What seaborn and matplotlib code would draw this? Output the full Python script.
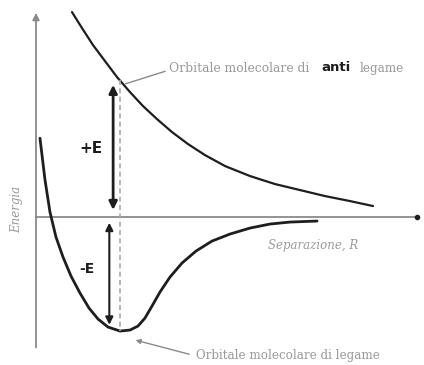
import numpy as np
import pandas as pd
import seaborn as sns
import matplotlib
matplotlib.use('Agg')
import matplotlib.pyplot as plt

# separation R and energy values
r_anti = [0.947, 1.211, 1.5, 1.816, 2.132, 2.474, 2.816, 3.184, 3.579, 4.0, 4.447, 4.974,
          5.632, 6.289, 6.947, 7.605, 8.263, 8.868]
e_anti = [5.694, 5.25, 4.778, 4.333, 3.889, 3.472, 3.083, 2.722, 2.361, 2.028, 1.722, 1.417,
          1.139, 0.917, 0.75, 0.583, 0.444, 0.306]

r_bond = [0.105, 0.237, 0.368, 0.526, 0.711, 0.921, 1.158, 1.395, 1.632, 1.895, 2.211,
          2.474, 2.684, 2.868, 3.053, 3.263, 3.526, 3.842, 4.211, 4.632, 5.105, 5.632, 6.158, 6.684, 7.395]
e_bond = [2.19, 1.033, 0.139, -0.556, -1.111, -1.639, -2.111, -2.528, -2.833, -3.056, -3.167,
          -3.139, -3.028, -2.806, -2.472, -2.083, -1.667, -1.278, -0.944, -0.667, -0.472, -0.306, -0.194, -0.139, -0.111]

r_eq = 2.21          # equilibrium separation (dashed line)
e_plus = 3.8         # antibonding level at r_eq
e_minus = -3.17      # bonding level at r_eq

anti = pd.DataFrame({'R': r_anti, 'E': e_anti})
bond = pd.DataFrame({'R': r_bond, 'E': e_bond})

sns.set_theme(style='white')
plt.rcParams['font.family'] = ['DejaVu Serif']

fig = plt.figure(figsize=(4.24, 3.65), dpi=100)
ax = fig.add_axes([0, 0, 1, 1])
ax.set_xlim(-0.947, 10.21)
ax.set_ylim(-4.11, 6.03)
ax.axis('off')

ink = '#1e1e1e'
grey = '#8a8a8a'
txt = '#9a9a9a'

# axes of the diagram
ax.annotate('', xy=(0, 5.75), xytext=(0, -3.7),
            arrowprops=dict(arrowstyle='-|>', color=grey, lw=1.3, mutation_scale=10))
ax.plot([0, 10.0], [0, 0], color=grey, lw=1.3)
ax.plot([10.03], [0], 'o', color=ink, ms=3)

# curves
sns.lineplot(data=anti, x='R', y='E', ax=ax, color=ink, lw=1.6, sort=False,
             solid_joinstyle='round', solid_capstyle='round')
sns.lineplot(data=bond, x='R', y='E', ax=ax, color=ink, lw=2.0, sort=False,
             solid_joinstyle='round', solid_capstyle='round')

# dashed equilibrium line
ax.plot([r_eq, r_eq], [e_plus, e_minus], color='#aaaaaa', lw=1.2, ls=(0, (3, 2)))

# energy arrows
ax.annotate('', xy=(r_eq - 0.18, e_plus - 0.05), xytext=(r_eq - 0.18, 0.12),
            arrowprops=dict(arrowstyle='<|-|>', color=ink, lw=2, mutation_scale=12))
ax.annotate('', xy=(r_eq - 0.28, -0.08), xytext=(r_eq - 0.28, e_minus + 0.1),
            arrowprops=dict(arrowstyle='<|-|>', color=ink, lw=1.5, mutation_scale=11))
ax.text(1.45, 1.9, '+E', fontsize=11, fontweight='bold', color=ink, ha='center', va='center',
        family=['DejaVu Sans'])
ax.text(1.35, -1.45, '-E', fontsize=10, fontweight='bold', color=ink, ha='center', va='center',
        family=['DejaVu Sans'])

# labels
ax.text(-0.5, 0.2, 'Energia', rotation=90, fontsize=8.5, style='italic', color=txt,
        ha='center', va='center')
ax.text(7.3, -0.78, 'Separazione, R', fontsize=8.5, style='italic', color=txt,
        ha='center', va='center')

ax.plot([2.35, 3.4], [3.7, 4.05], color=grey, lw=1)
ax.text(3.5, 4.12, 'Orbitale molecolare di', fontsize=8.9, color=txt, ha='left', va='center')
ax.text(7.52, 4.15, 'anti', fontsize=9.5, fontweight='bold', color=ink, ha='left', va='center',
        family=['DejaVu Sans'])
ax.text(8.52, 4.12, 'legame', fontsize=8.6, color=txt, ha='left', va='center')

ax.annotate('', xy=(2.55, -3.4), xytext=(4.1, -3.83),
            arrowprops=dict(arrowstyle='-|>', color=grey, lw=1, mutation_scale=7))
ax.text(4.2, -3.85, 'Orbitale molecolare di legame', fontsize=8.6, color=txt,
        ha='left', va='center')

plt.savefig('out.png', dpi=100)
plt.close()
